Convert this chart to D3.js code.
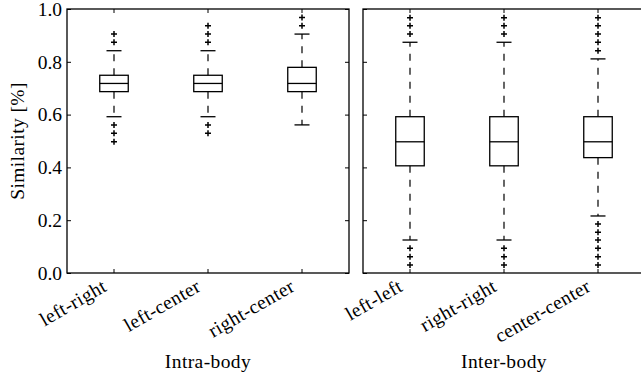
<!DOCTYPE html>
<html>
<head>
<meta charset="utf-8">
<script src="https://cdn.jsdelivr.net/npm/d3@7"></script>
<style>
  html, body { margin: 0; padding: 0; background: #fff; }
  svg { display: block; }
  text { font-family: "Liberation Serif", "DejaVu Serif", serif; fill: #000; }
</style>
</head>
<body>
<svg id="chart" width="641" height="377"></svg>
<script>
// ---- data ----
const intraCategories = ["left-right", "left-center", "right-center"];
const intraQ1 = [0.687, 0.687, 0.687];
const intraMedian = [0.718, 0.718, 0.718];
const intraQ3 = [0.749, 0.749, 0.779];
const intraWhiskerLow = [0.592, 0.592, 0.561];
const intraWhiskerHigh = [0.842, 0.842, 0.905];
const intraOutliers = [
  [0.905, 0.874, 0.561, 0.529, 0.497],
  [0.937, 0.905, 0.874, 0.561, 0.529],
  [0.968, 0.937]
];

const interCategories = ["left-left", "right-right", "center-center"];
const interQ1 = [0.406, 0.406, 0.437];
const interMedian = [0.497, 0.497, 0.497];
const interQ3 = [0.592, 0.592, 0.592];
const interWhiskerLow = [0.125, 0.125, 0.216];
const interWhiskerHigh = [0.874, 0.874, 0.811];
const interOutliers = [
  [0.967, 0.937, 0.905, 0.094, 0.062, 0.030],
  [0.967, 0.937, 0.905, 0.094, 0.062, 0.030],
  [0.967, 0.937, 0.905, 0.874, 0.842, 0.186, 0.154, 0.125, 0.094, 0.062, 0.030]
];

const yTicks = [0.0, 0.2, 0.4, 0.6, 0.8, 1.0];
const yLabel = "Similarity [%]";
const groupTitles = ["Intra-body", "Inter-body"];

// ---- layout ----
const svg = d3.select("#chart");
const plotTop = 9, plotBottom = 273;
const panels = [
  { x0: 67, x1: 349, cats: intraCategories, q1: intraQ1, med: intraMedian, q3: intraQ3,
    wl: intraWhiskerLow, wh: intraWhiskerHigh, out: intraOutliers, title: groupTitles[0], labels: true },
  { x0: 363, x1: 645, cats: interCategories, q1: interQ1, med: interMedian, q3: interQ3,
    wl: interWhiskerLow, wh: interWhiskerHigh, out: interOutliers, title: groupTitles[1], labels: false }
];

const y = d3.scaleLinear().domain([0, 1]).range([plotBottom, plotTop]);
const boxW = 28.5, capW = 15, plusR = 3;
const fontSize = 19.5;
const ls = "0.4px";

panels.forEach(p => {
  const x = d3.scaleBand().domain(p.cats).range([p.x0, p.x1]).padding(0);
  const cx = c => x(c) + x.bandwidth() / 2;
  const g = svg.append("g");

  const left = g.append("g").attr("transform", `translate(${p.x0},0)`)
    .call(d3.axisLeft(y).tickValues(yTicks).tickSizeInner(-4).tickSizeOuter(0)
      .tickPadding(5).tickFormat(p.labels ? d3.format(".1f") : () => ""));
  const right = g.append("g").attr("transform", `translate(${p.x1},0)`)
    .call(d3.axisRight(y).tickValues(yTicks).tickSizeInner(-4).tickSizeOuter(0).tickFormat(() => ""));
  const bot = g.append("g").attr("transform", `translate(0,${plotBottom})`)
    .call(d3.axisBottom(x).tickSizeInner(-4).tickSizeOuter(0));
  const topAx = g.append("g").attr("transform", `translate(0,${plotTop})`)
    .call(d3.axisTop(x).tickSizeInner(-4).tickSizeOuter(0).tickFormat(() => ""));
  [left, right, bot, topAx].forEach(a => {
    a.select(".domain").remove();
    a.selectAll(".tick line").attr("stroke", "#000").attr("stroke-width", 1);
  });
  left.selectAll(".tick text").attr("font-size", fontSize).attr("font-family", "Liberation Serif").attr("fill", "#000");
  bot.selectAll(".tick text")
    .attr("font-size", fontSize).attr("font-family", "Liberation Serif").attr("fill", "#000")
    .attr("letter-spacing", ls)
    .attr("text-anchor", "end").attr("x", 0).attr("y", 0).attr("dy", 0)
    .attr("transform", "translate(-6,17) rotate(-30)");

  p.cats.forEach((c, i) => {
    const xc = cx(c);
    const bg = g.append("g");
    bg.append("line").attr("x1", xc).attr("x2", xc).attr("y1", y(p.q3[i])).attr("y2", y(p.wh[i]))
      .attr("stroke", "#000").attr("stroke-width", 1.2).attr("stroke-dasharray", "7,7");
    bg.append("line").attr("x1", xc).attr("x2", xc).attr("y1", y(p.q1[i])).attr("y2", y(p.wl[i]))
      .attr("stroke", "#000").attr("stroke-width", 1.2).attr("stroke-dasharray", "7,7");
    [p.wh[i], p.wl[i]].forEach(v => {
      bg.append("line").attr("x1", xc - capW / 2).attr("x2", xc + capW / 2).attr("y1", y(v)).attr("y2", y(v))
        .attr("stroke", "#000").attr("stroke-width", 1.3);
    });
    bg.append("rect").attr("x", xc - boxW / 2).attr("width", boxW)
      .attr("y", y(p.q3[i])).attr("height", y(p.q1[i]) - y(p.q3[i]))
      .attr("fill", "none").attr("stroke", "#000").attr("stroke-width", 1.3);
    bg.append("line").attr("x1", xc - boxW / 2).attr("x2", xc + boxW / 2)
      .attr("y1", y(p.med[i])).attr("y2", y(p.med[i]))
      .attr("stroke", "#000").attr("stroke-width", 1.3);
    p.out[i].forEach(v => {
      const yy = y(v);
      bg.append("path").attr("d", `M${xc - plusR},${yy}H${xc + plusR}M${xc},${yy - plusR}V${yy + plusR}`)
        .attr("stroke", "#000").attr("stroke-width", 1.5).attr("fill", "none");
    });
  });

  g.append("rect").attr("x", p.x0).attr("y", plotTop).attr("width", p.x1 - p.x0).attr("height", plotBottom - plotTop)
    .attr("fill", "none").attr("stroke", "#000").attr("stroke-width", 1.3);

  g.append("text").attr("x", (p.x0 + p.x1) / 2).attr("y", 368).attr("text-anchor", "middle")
    .attr("font-size", fontSize).attr("letter-spacing", ls).text(p.title);
});

svg.append("text").attr("transform", "translate(24,141) rotate(-90)").attr("text-anchor", "middle")
  .attr("font-size", fontSize).attr("letter-spacing", ls).text(yLabel);
</script>
</body>
</html>
